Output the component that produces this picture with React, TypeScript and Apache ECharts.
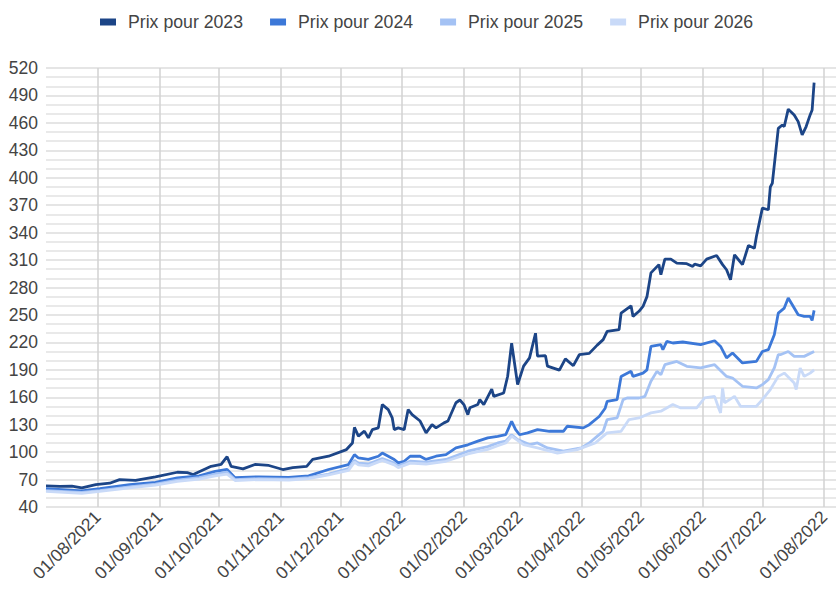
import React, { useEffect, useRef } from "react";
import * as echarts from "echarts";

const seriesNames = ["Prix pour 2023", "Prix pour 2024", "Prix pour 2025", "Prix pour 2026"];
const colors = ["#1c4587", "#3c78d8", "#a4c2f4", "#c9daf8"];

const monthTicks = [
  "2021-08-01", "2021-09-01", "2021-10-01", "2021-11-01", "2021-12-01", "2022-01-01",
  "2022-02-01", "2022-03-01", "2022-04-01", "2022-05-01", "2022-06-01", "2022-07-01", "2022-08-01",
];

const yTicks = { min: 40, max: 520, interval: 30 };

const dates2023 = [
  "2021-07-06", "2021-07-13", "2021-07-19", "2021-07-24", "2021-07-31", "2021-08-07", "2021-08-12",
  "2021-08-20", "2021-08-30", "2021-09-10", "2021-09-15", "2021-09-18", "2021-09-27", "2021-10-02",
  "2021-10-05", "2021-10-07", "2021-10-13", "2021-10-19", "2021-10-26", "2021-11-02", "2021-11-07",
  "2021-11-14", "2021-11-17", "2021-11-25", "2021-12-04", "2021-12-07", "2021-12-08", "2021-12-10",
  "2021-12-13", "2021-12-15", "2021-12-17", "2021-12-20", "2021-12-22", "2021-12-25", "2021-12-27",
  "2021-12-28", "2021-12-30", "2022-01-02", "2022-01-04", "2022-01-06", "2022-01-10", "2022-01-13",
  "2022-01-16", "2022-01-18", "2022-01-22", "2022-01-24", "2022-01-28", "2022-01-30", "2022-02-01",
  "2022-02-03", "2022-02-04", "2022-02-08", "2022-02-09", "2022-02-11", "2022-02-15", "2022-02-16",
  "2022-02-21", "2022-02-23", "2022-02-25", "2022-02-28", "2022-03-03", "2022-03-06", "2022-03-09",
  "2022-03-10", "2022-03-14", "2022-03-15", "2022-03-21", "2022-03-24", "2022-03-28", "2022-03-31",
  "2022-04-05", "2022-04-09", "2022-04-12", "2022-04-14", "2022-04-20", "2022-04-21", "2022-04-26",
  "2022-04-27", "2022-04-30", "2022-05-02", "2022-05-04", "2022-05-06", "2022-05-10", "2022-05-11",
  "2022-05-13", "2022-05-16", "2022-05-19", "2022-05-24", "2022-05-27", "2022-05-28", "2022-05-31",
  "2022-06-03", "2022-06-08", "2022-06-11", "2022-06-13", "2022-06-15", "2022-06-17", "2022-06-21",
  "2022-06-24", "2022-06-27", "2022-06-28", "2022-07-01", "2022-07-04", "2022-07-05", "2022-07-06",
  "2022-07-09", "2022-07-11", "2022-07-12", "2022-07-14", "2022-07-17", "2022-07-19", "2022-07-21",
  "2022-07-23", "2022-07-25", "2022-07-26", "2022-07-27",
];
const values2023 = [
  63, 62.5, 62.7, 61, 64.5, 66, 70,
  69, 73, 78, 77.5, 75.5, 84.5, 86.5,
  95, 84.5, 81.7, 86.5, 85.4, 81, 83,
  84.5, 92, 95.5, 102.8, 110, 127, 117.5,
  123, 115.6, 124.6, 126.5, 152, 146.5, 137.4,
  124.6, 126.5, 124.6, 146.5, 141, 134, 121,
  130, 126.5, 132, 134, 154, 157, 152,
  141, 148.5, 152, 157.5, 152, 169, 161,
  164.7, 183, 219, 174, 194, 203, 230,
  205, 205.5, 194, 189.6, 202, 194.5, 206.5,
  208, 217, 223, 232, 234, 252, 260,
  248.4, 254, 259.3, 270, 296, 305, 294,
  311, 311, 306.7, 306, 303, 305.6, 303.7,
  311, 315, 305, 299.4, 288.5, 315.8, 305,
  326, 323, 335.8, 366.8, 365, 390, 394,
  454, 457.7, 456, 475, 468.7, 461.4, 446.8,
  456, 468.7, 474, 504,
];

const dates2024 = [
  "2021-07-06", "2021-07-24", "2021-08-02", "2021-08-17", "2021-08-30", "2021-09-10", "2021-09-21",
  "2021-09-29", "2021-10-05", "2021-10-09", "2021-10-21", "2021-11-05", "2021-11-15", "2021-11-25",
  "2021-12-05", "2021-12-08", "2021-12-10", "2021-12-15", "2021-12-20", "2021-12-22", "2021-12-25",
  "2021-12-28", "2021-12-30", "2022-01-02", "2022-01-05", "2022-01-10", "2022-01-13", "2022-01-18",
  "2022-01-23", "2022-01-28", "2022-02-03", "2022-02-08", "2022-02-13", "2022-02-18", "2022-02-22",
  "2022-02-25", "2022-02-27", "2022-03-01", "2022-03-05", "2022-03-10", "2022-03-16", "2022-03-23",
  "2022-03-25", "2022-04-02", "2022-04-05", "2022-04-10", "2022-04-13", "2022-04-14", "2022-04-19",
  "2022-04-21", "2022-04-26", "2022-04-27", "2022-05-02", "2022-05-04", "2022-05-06", "2022-05-11",
  "2022-05-12", "2022-05-14", "2022-05-17", "2022-05-22", "2022-05-31", "2022-06-07", "2022-06-10",
  "2022-06-13", "2022-06-16", "2022-06-21", "2022-06-28", "2022-07-01", "2022-07-04", "2022-07-07",
  "2022-07-09", "2022-07-12", "2022-07-14", "2022-07-17", "2022-07-19", "2022-07-22", "2022-07-25",
  "2022-07-26", "2022-07-27",
];
const values2024 = [
  60, 57.5, 60, 64.5, 67, 71.8, 74,
  79, 81, 72, 73, 72.5, 74, 81,
  86.4, 97.3, 93.6, 92, 95.5, 99, 95.5,
  92, 88.3, 90, 95.5, 95.5, 92, 95.5,
  97.3, 104.6, 108, 112, 115.6, 117.3, 119,
  133.7, 124.6, 119, 121, 124.6, 122.8, 122.8,
  128.3, 126.5, 130, 139, 148, 155.6, 157.4,
  182.8, 188.3, 182.8, 186.4, 190, 215.6, 217.5,
  212, 221, 219.3, 220.4, 217.5, 221.8, 215.6,
  203, 208.4, 197.5, 199.2, 210, 212, 228.4,
  252, 257.5, 268.5, 257.5, 250.2, 248.4, 248.4,
  244, 255,
];

const dates2025 = [
  "2021-07-06", "2021-07-24", "2021-08-02", "2021-08-17", "2021-08-30", "2021-09-10", "2021-09-21",
  "2021-09-29", "2021-10-05", "2021-10-09", "2021-10-21", "2021-11-05", "2021-11-15", "2021-11-25",
  "2021-12-05", "2021-12-08", "2021-12-10", "2021-12-15", "2021-12-22", "2021-12-28", "2021-12-30",
  "2022-01-05", "2022-01-13", "2022-01-23", "2022-02-03", "2022-02-13", "2022-02-18", "2022-02-22",
  "2022-02-25", "2022-02-28", "2022-03-06", "2022-03-10", "2022-03-15", "2022-03-23", "2022-04-01",
  "2022-04-05", "2022-04-10", "2022-04-12", "2022-04-14", "2022-04-19", "2022-04-22", "2022-04-24",
  "2022-04-30", "2022-05-03", "2022-05-06", "2022-05-09", "2022-05-11", "2022-05-13", "2022-05-19",
  "2022-05-24", "2022-05-31", "2022-06-07", "2022-06-13", "2022-06-16", "2022-06-21", "2022-06-28",
  "2022-07-01", "2022-07-04", "2022-07-07", "2022-07-09", "2022-07-10", "2022-07-14", "2022-07-17",
  "2022-07-22", "2022-07-27",
];
const values2025 = [
  58, 56, 58, 62, 65, 69.5, 72,
  76, 78, 70, 71, 70.5, 72, 76,
  82, 91, 88, 87, 93, 88, 85,
  90, 89, 92, 101, 106, 110, 112,
  119, 113.7, 108.2, 110, 104.6, 101, 104.6,
  110, 119.2, 122.8, 135.6, 137.4, 157.4, 159.2,
  159.2, 161, 177.5, 188.3, 184.7, 195.6, 199.2,
  193.8, 192, 195.6, 182.8, 181, 172, 170.2,
  173.8, 179.2, 192, 206.5, 206.5, 210, 204.7,
  204.7, 210,
];

const dates2026 = [
  "2021-07-06", "2021-07-24", "2021-08-02", "2021-08-17", "2021-08-30", "2021-09-10", "2021-09-21",
  "2021-09-29", "2021-10-05", "2021-10-09", "2021-10-21", "2021-11-05", "2021-11-15", "2021-11-25",
  "2021-12-05", "2021-12-08", "2021-12-10", "2021-12-15", "2021-12-22", "2021-12-28", "2021-12-30",
  "2022-01-05", "2022-01-13", "2022-01-23", "2022-02-03", "2022-02-13", "2022-02-18", "2022-02-22",
  "2022-02-25", "2022-03-03", "2022-03-10", "2022-03-20", "2022-03-30", "2022-04-08", "2022-04-10",
  "2022-04-14", "2022-04-21", "2022-04-25", "2022-04-30", "2022-05-06", "2022-05-11", "2022-05-17",
  "2022-05-21", "2022-05-29", "2022-06-02", "2022-06-07", "2022-06-09", "2022-06-10", "2022-06-11",
  "2022-06-12", "2022-06-17", "2022-06-20", "2022-06-28", "2022-07-01", "2022-07-05", "2022-07-09",
  "2022-07-12", "2022-07-17", "2022-07-18", "2022-07-20", "2022-07-22", "2022-07-25", "2022-07-27",
];
const values2026 = [
  57, 55, 57, 61, 64, 68, 70.5,
  74, 76, 69, 70, 69.5, 71, 75,
  80, 89, 86, 85, 91, 86, 83,
  88, 87, 90, 98, 103, 107, 110,
  117.4, 108.2, 104.6, 99, 102.8, 110, 113.7,
  121, 122.8, 135.6, 137.4, 142.9, 144.7, 152,
  148.3, 148.3, 159.2, 161, 148.3, 142.9, 170.2,
  153.8, 161, 150.1, 150.1, 157.4, 168.4, 182.8,
  186.4, 175.6, 168.4, 192, 182.8, 186.4, 190,
];

const allDates = [dates2023, dates2024, dates2025, dates2026];
const allValues = [values2023, values2024, values2025, values2026];

function toTime(s: string): number {
  const [y, m, d] = s.split("-").map(Number);
  return new Date(y, m - 1, d).getTime();
}

function pad(n: number): string {
  return n < 10 ? "0" + n : String(n);
}

export default function App() {
  const ref = useRef<HTMLDivElement>(null);

  useEffect(() => {
    if (!ref.current) return;
    const chart = echarts.init(ref.current, undefined, { renderer: "svg" });
    const font = "'Liberation Sans', Arial, sans-serif";
    const tickTimes = monthTicks.map(toTime);
    chart.setOption({
      animation: false,
      backgroundColor: "#ffffff",
      color: colors,
      legend: {
        top: 8,
        left: 95,
        icon: "rect",
        itemWidth: 16,
        itemHeight: 7,
        itemGap: 27,
        textStyle: { fontFamily: font, fontSize: 17.7, color: "#444444", padding: [0, 0, 0, 7] },
        data: seriesNames,
      },
      grid: { left: 46, right: 4, top: 68, bottom: 84, containLabel: false },
      xAxis: {
        type: "value",
        min: toTime("2021-07-06"),
        max: toTime("2022-08-07"),
        axisLine: { show: false },
        axisTick: { show: false, customValues: tickTimes },
        axisLabel: {
          customValues: tickTimes,
          rotate: 45,
          margin: 7,
          fontFamily: font,
          fontSize: 17.5,
          color: "#444444",
          formatter: (v: number) => {
            const d = new Date(v);
            return pad(d.getDate()) + "/" + pad(d.getMonth() + 1) + "/" + d.getFullYear();
          },
        },
        splitLine: { show: true, lineStyle: { color: "#d2d2d2", width: 1.5 } },
      },
      yAxis: {
        type: "value",
        min: yTicks.min,
        max: yTicks.max,
        interval: yTicks.interval,
        axisLine: { show: false },
        axisTick: { show: false },
        axisLabel: { fontFamily: font, fontSize: 17.5, color: "#444444", margin: 8 },
        splitLine: { show: true, lineStyle: { color: "#dcdcdc", width: 1.5 } },
        minorTick: { show: false, splitNumber: 3 },
        minorSplitLine: { show: true, lineStyle: { color: "#e2e2e2", width: 1.5 } },
      },
      series: seriesNames.map((name, i) => ({
        name,
        type: "line",
        showSymbol: false,
        symbol: "none",
        lineStyle: { width: 2.8, color: colors[i] },
        itemStyle: { color: colors[i] },
        data: allDates[i].map((d, j) => [toTime(d), allValues[i][j]]),
      })),
    });
    return () => chart.dispose();
  }, []);

  return (
    <div
      ref={ref}
      style={{ position: "fixed", left: 0, top: 0, width: 840, height: 591, background: "#fff" }}
    />
  );
}
